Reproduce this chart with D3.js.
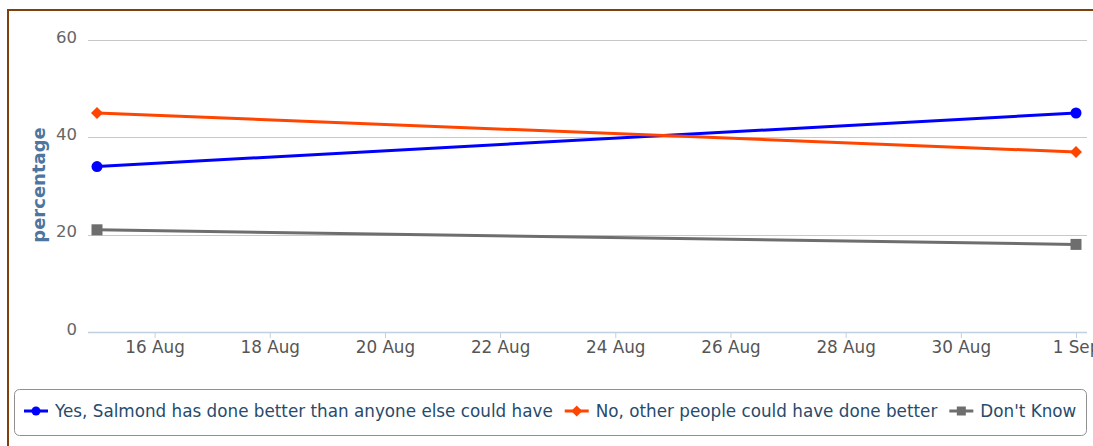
<!DOCTYPE html>
<html>
<head>
<meta charset="utf-8">
<script src="https://cdn.jsdelivr.net/npm/d3@7"></script>
<style>
html,body{margin:0;padding:0;background:#fff;overflow:hidden;}
svg{display:block;}
</style>
</head>
<body>
<svg id="chart" width="1093" height="446"></svg>
<script>
// ---- data ----
const dates = ["2014-08-15", "2014-09-01"];
const seriesNames = [
  "Yes, Salmond has done better than anyone else could have",
  "No, other people could have done better",
  "Don't Know"
];
const yesValues = [34, 45];
const noValues = [45, 37];
const dkValues = [21, 18];
const xTickDates = ["2014-08-16","2014-08-18","2014-08-20","2014-08-22","2014-08-24","2014-08-26","2014-08-28","2014-08-30","2014-09-01"];
const yTicks = [0, 20, 40, 60];
const yTitle = "percentage";

// ---- setup ----
const svg = d3.select("#chart");
const parse = d3.utcParse("%Y-%m-%d");
const fmt = d3.utcFormat("%-d %b");
const FONT = "DejaVu Sans, sans-serif";

const series = [
  {name: seriesNames[0], values: yesValues, color: "#0000ff", marker: "circle"},
  {name: seriesNames[1], values: noValues, color: "#ff4500", marker: "diamond"},
  {name: seriesNames[2], values: dkValues, color: "#6e6e6e", marker: "square"}
];

const plotLeft = 88, plotRight = 1087, plotTop = 40, plotBottom = 332;
const x = d3.scaleUtc().domain([parse(dates[0]), parse(dates[dates.length-1])]).range([97, 1076]);
const y = d3.scaleLinear().domain([0, 60]).range([plotBottom, plotTop]);

// outer border
svg.append("rect").attr("x", 8).attr("y", 10).attr("width", 1100).attr("height", 450)
  .attr("fill", "#fff").attr("stroke", "#80400c").attr("stroke-width", 2);

// gridlines
svg.append("g").selectAll("line").data(yTicks.filter(d => d > 0)).join("line")
  .attr("x1", plotLeft).attr("x2", plotRight)
  .attr("y1", d => Math.round(y(d)) + 0.5).attr("y2", d => Math.round(y(d)) + 0.5)
  .attr("stroke", "#c8c8c8").attr("stroke-width", 1);

// y axis labels
const yAxis = d3.axisLeft(y).tickValues(yTicks).tickSize(0).tickPadding(0);
const yg = svg.append("g").attr("transform", `translate(77,0)`).call(yAxis);
yg.select(".domain").remove();
yg.selectAll("text").attr("font-family", FONT).attr("font-size", 16.5)
  .attr("fill", "#666").attr("dy", null).attr("y", 0)
  .attr("transform", "translate(0,2)");

// y title
svg.append("text").attr("transform", `translate(45,185) rotate(-90)`)
  .attr("text-anchor", "middle").attr("font-family", FONT)
  .attr("font-weight", "bold").attr("font-size", 18).attr("fill", "#4d759e").text(yTitle);

// x axis
const xAxis = d3.axisBottom(x).tickValues(xTickDates.map(parse)).tickFormat(fmt).tickSize(6).tickPadding(3).tickSizeOuter(0);
const xg = svg.append("g").attr("transform", `translate(0,${plotBottom})`).call(xAxis);
xg.select(".domain").remove();
xg.selectAll(".tick line").attr("stroke", "#c0d0e0").attr("stroke-width", 1);
xg.selectAll("text").attr("font-family", FONT).attr("font-size", 16.8).attr("fill", "#555");
svg.append("line").attr("x1", plotLeft).attr("x2", plotRight).attr("y1", plotBottom + 0.5).attr("y2", plotBottom + 0.5)
  .attr("stroke", "#c0d0e0").attr("stroke-width", 1.5);

// lines
const line = d3.line().x(d => x(d.date)).y(d => y(d.value));
function markerPath(type, size) {
  if (type === "circle") return d3.symbol(d3.symbolCircle, size * size * Math.PI / 4)();
  if (type === "square") return d3.symbol(d3.symbolSquare, size * size)();
  const h = size / 2;
  return `M0,${-h}L${h},0L0,${h}L${-h},0Z`;
}
series.forEach(s => {
  const pts = s.values.map((v, i) => ({date: parse(dates[i]), value: v}));
  svg.append("path").datum(pts).attr("d", line).attr("fill", "none")
    .attr("stroke", s.color).attr("stroke-width", 3).attr("stroke-linejoin", "round");
  svg.append("g").selectAll("path").data(pts).join("path")
    .attr("transform", d => `translate(${x(d.date)},${y(d.value)})`)
    .attr("d", markerPath(s.marker, s.marker === "diamond" ? 12 : 11))
    .attr("fill", s.color);
});

// legend
const legend = svg.append("g");
legend.append("rect").attr("x", 14.5).attr("y", 389.5).attr("width", 1072).attr("height", 46)
  .attr("rx", 5).attr("fill", "#fff").attr("stroke", "#909090").attr("stroke-width", 1);
let lx = 24;
const ly = 411;
series.forEach(s => {
  const g = legend.append("g");
  g.append("line").attr("x1", lx).attr("x2", lx + 24).attr("y1", ly).attr("y2", ly)
    .attr("stroke", s.color).attr("stroke-width", 3);
  g.append("path").attr("transform", `translate(${lx + 12},${ly})`)
    .attr("d", markerPath(s.marker, s.marker === "diamond" ? 11 : 9)).attr("fill", s.color);
  const t = g.append("text").attr("x", lx + 31).attr("y", ly + 6)
    .attr("font-family", FONT).attr("font-size", 16.8).attr("fill", "#274b6d").text(s.name);
  lx = lx + 31 + t.node().getComputedTextLength() + 12;
});
</script>
</body>
</html>
